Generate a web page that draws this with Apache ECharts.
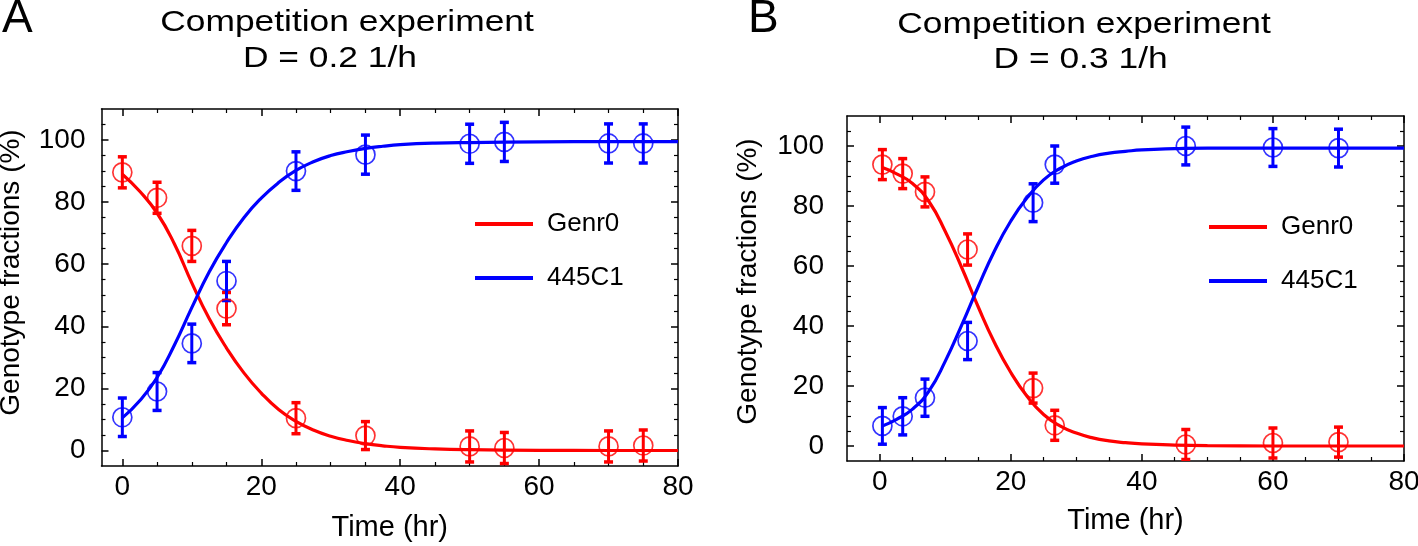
<!DOCTYPE html>
<html><head><meta charset="utf-8">
<script src="https://cdn.jsdelivr.net/npm/echarts@6/dist/echarts.min.js"></script>
<style>html,body{margin:0;padding:0;background:#fff}#c{width:1418px;height:546px}</style>
</head><body><div id="c"></div>
<script>
// ---------- data ----------
const seriesNames = ['Genr0', '445C1'];
const panelLetters = ['A', 'B'];
const titleLine1 = ['Competition experiment', 'Competition experiment'];
const titleLine2 = ['D = 0.2 1/h', 'D = 0.3 1/h'];
const xAxisName = 'Time (hr)';
const yAxisName = 'Genotype fractions (%)';

// Panel A : D = 0.2 1/h
const timeA = [0, 5, 10, 15, 25, 35, 50, 55, 70, 75];
const genr0A = [89.6, 81.4, 65.9, 45.7, 10.4, 4.8, 1.3, 0.8, 1.3, 1.6];
const genr0ErrA = [5, 5, 5, 5.2, 5, 4.5, 5, 5, 5, 5];
const c445A = [10.7, 19, 34.5, 54.6, 90, 95.3, 98.8, 99.4, 98.9, 98.9];
const c445ErrA = [6.2, 6.1, 6.2, 6.3, 6.2, 6.3, 6.3, 6.3, 6.3, 6.3];
const fitTimeA = [0, 2.5, 5, 7.5, 10, 12.5, 15, 17.5, 20, 22.5, 25, 27.5, 30, 32.5, 35, 37.5, 40, 45, 50, 60, 70, 80];
const fitGenr0A = [89, 83.5, 76.5, 66.5, 54, 42.5, 33, 25, 18.5, 13.2, 9.4, 6.6, 4.6, 3.2, 2.2, 1.5, 1.0, 0.5, 0.25, 0.05, 0, 0];
const fitC445A = [10.5, 16, 23.5, 34, 46, 57.5, 67, 75, 81.3, 86.3, 90.2, 93, 95, 96.3, 97.3, 98, 98.5, 99, 99.2, 99.4, 99.5, 99.5];

// Panel B : D = 0.3 1/h
const timeB = [0.4, 3.5, 6.9, 13.4, 23.4, 26.7, 46.7, 60, 70];
const genr0B = [93.8, 90.8, 84.7, 65.5, 19.3, 6.9, 0.5, 1.0, 1.3];
const genr0ErrB = [5, 5, 5, 5.2, 5, 5, 5, 5, 5];
const c445B = [6.7, 9.9, 16.1, 35, 81.1, 93.8, 100, 99.5, 99.3];
const c445ErrB = [6.1, 6.2, 6.2, 6.2, 6.3, 6.2, 6.3, 6.3, 6.3];
const fitTimeB = [0.4, 2.5, 5, 7.5, 10, 12.5, 15, 17.5, 20, 22.5, 25, 27.5, 30, 32.5, 35, 37.5, 40, 45, 50, 60, 70, 80];
const fitGenr0B = [92.8, 90.8, 87.5, 81.5, 71.5, 59.5, 46.5, 34.5, 24.5, 16.5, 10.5, 6.7, 4.3, 2.7, 1.7, 1.1, 0.7, 0.3, 0.1, 0, 0, 0];
const fitC445B = [6.7, 8.8, 12.3, 18.3, 28.3, 40.3, 53, 65, 75, 82.8, 88.7, 92.5, 95, 96.6, 97.6, 98.2, 98.7, 99.1, 99.3, 99.3, 99.3, 99.3];

// axis ticks
const xMajorTicks = [0, 20, 40, 60, 80];
const xMinorTicks = [5, 10, 15, 25, 30, 35, 45, 50, 55, 65, 70, 75];
const yMajorTicks = [0, 20, 40, 60, 80, 100];
const yMinorTicks = [5, 10, 15, 25, 30, 35, 45, 50, 55, 65, 70, 75, 85, 90, 95, 105];

// ---------- styling / layout ----------
const RED = '#ff0000', BLUE = '#0000ff';
const FONT = '"Liberation Sans", Arial, Helvetica, sans-serif';
const NARROW = '"Liberation Sans Narrow", "Liberation Sans", Arial, sans-serif';

const panels = [
  { grid: {left: 101.5, top: 109, width: 576.5, height: 357, outerBoundsMode: 'none', containLabel: false},
    xMin: -3, xMax: 80, yMin: -5, yMax: 110,
    yLabelMargin: 16, yNameGap: 76, yNamePad: 30, xNameGap: 47, legendLeft: 470, legendTop: 206,
    t: timeA, r: genr0A, re: genr0ErrA, b: c445A, be: c445ErrA, ft: fitTimeA, fr: fitGenr0A, fb: fitC445A },
  { grid: {left: 847, top: 116, width: 557, height: 345, outerBoundsMode: 'none', containLabel: false},
    xMin: -5, xMax: 80, yMin: -5, yMax: 110,
    yLabelMargin: 23, yNameGap: 85, yNamePad: 14, xNameGap: 45, legendLeft: 1204, legendTop: 209,
    t: timeB, r: genr0B, re: genr0ErrB, b: c445B, be: c445ErrB, ft: fitTimeB, fr: fitGenr0B, fb: fitC445B }
];

const AXIS_LINE = {show: true, onZero: false, lineStyle: {color: '#000', width: 1.5}};
const NO_LINE = {show: false, onZero: false};

function xAxes(p, g) {
  const base = {type: 'value', gridIndex: g, min: p.xMin, max: p.xMax, splitLine: {show: false}};
  return [
    Object.assign({}, base, {position: 'bottom', axisLine: AXIS_LINE,
      axisTick: {show: true, inside: true, length: 7, customValues: xMajorTicks, lineStyle: {color: '#000', width: 1.5}},
      axisLabel: {show: true, customValues: xMajorTicks, margin: 7, fontSize: 28, fontFamily: FONT, color: '#000'},
      name: xAxisName, nameLocation: 'middle', nameGap: p.xNameGap,
      nameTextStyle: {fontSize: 29, fontFamily: FONT, color: '#000'}}),
    Object.assign({}, base, {position: 'bottom', axisLine: NO_LINE,
      axisTick: {show: true, inside: true, length: 4, customValues: xMinorTicks, lineStyle: {color: '#000', width: 1.2}},
      axisLabel: {show: false}}),
    Object.assign({}, base, {position: 'top', axisLine: AXIS_LINE,
      axisTick: {show: true, inside: true, length: 7, customValues: xMajorTicks, lineStyle: {color: '#000', width: 1.5}},
      axisLabel: {show: false}}),
    Object.assign({}, base, {position: 'top', axisLine: NO_LINE,
      axisTick: {show: true, inside: true, length: 4, customValues: xMinorTicks, lineStyle: {color: '#000', width: 1.2}},
      axisLabel: {show: false}})
  ];
}
function yAxes(p, g) {
  const base = {type: 'value', gridIndex: g, min: p.yMin, max: p.yMax, splitLine: {show: false}};
  return [
    Object.assign({}, base, {position: 'left', axisLine: AXIS_LINE,
      axisTick: {show: true, inside: true, length: 7, customValues: yMajorTicks, lineStyle: {color: '#000', width: 1.5}},
      axisLabel: {show: true, customValues: yMajorTicks, margin: p.yLabelMargin, fontSize: 28, fontFamily: NARROW, color: '#000'},
      name: yAxisName, nameLocation: 'middle', nameGap: p.yNameGap,
      nameTextStyle: {fontSize: 28, fontFamily: FONT, color: '#000', padding: [0, 0, 0, p.yNamePad]}}),
    Object.assign({}, base, {position: 'left', axisLine: NO_LINE,
      axisTick: {show: true, inside: true, length: 4, customValues: yMinorTicks, lineStyle: {color: '#000', width: 1.2}},
      axisLabel: {show: false}}),
    Object.assign({}, base, {position: 'right', axisLine: AXIS_LINE,
      axisTick: {show: true, inside: true, length: 7, customValues: yMajorTicks, lineStyle: {color: '#000', width: 1.5}},
      axisLabel: {show: false}}),
    Object.assign({}, base, {position: 'right', axisLine: NO_LINE,
      axisTick: {show: true, inside: true, length: 4, customValues: yMinorTicks, lineStyle: {color: '#000', width: 1.2}},
      axisLabel: {show: false}})
  ];
}

function errRender(params, api) {
  const x = api.value(0), lo = api.value(1), hi = api.value(2);
  const p1 = api.coord([x, hi]), p2 = api.coord([x, lo]);
  const w = 4.5;
  const style = {stroke: api.visual('color'), lineWidth: 3};
  return {type: 'group', children: [
    {type: 'line', shape: {x1: p1[0], y1: p1[1], x2: p2[0], y2: p2[1]}, style: style},
    {type: 'line', shape: {x1: p1[0] - w, y1: p1[1], x2: p1[0] + w, y2: p1[1]}, style: Object.assign({}, style, {lineWidth: 3.5})},
    {type: 'line', shape: {x1: p2[0] - w, y1: p2[1], x2: p2[0] + w, y2: p2[1]}, style: Object.assign({}, style, {lineWidth: 3.5})}
  ]};
}

const grid = [], xAxis = [], yAxis = [], series = [], legend = [];
panels.forEach((p, g) => {
  grid.push(p.grid);
  xAxis.push(...xAxes(p, g));
  yAxis.push(...yAxes(p, g));
  const xi = 4 * g, yi = 4 * g;
  const sets = [
    {name: seriesNames[0], color: RED, fit: p.fr, v: p.r, e: p.re},
    {name: seriesNames[1], color: BLUE, fit: p.fb, v: p.b, e: p.be}
  ];
  sets.forEach(s => {
    series.push({
      type: 'line', name: s.name, xAxisIndex: xi, yAxisIndex: yi,
      data: p.ft.map((t, i) => [t, s.fit[i]]),
      smooth: 0.5, showSymbol: false, symbol: 'none',
      lineStyle: {color: s.color, width: 3.2}, itemStyle: {color: s.color},
      z: 3, silent: true
    });
  });
  sets.forEach(s => {
    series.push({
      type: 'custom', name: s.name + ' error', xAxisIndex: xi, yAxisIndex: yi,
      renderItem: errRender, encode: {x: 0, y: [1, 2]},
      data: p.t.map((t, i) => [t, s.v[i] - s.e[i], s.v[i] + s.e[i]]),
      itemStyle: {color: s.color}, clip: true, z: 4, silent: true
    });
    series.push({
      type: 'scatter', name: s.name + ' data', xAxisIndex: xi, yAxisIndex: yi,
      data: p.t.map((t, i) => [t, s.v[i]]),
      symbol: 'circle', symbolSize: 19,
      itemStyle: {color: 'rgba(0,0,0,0)', borderColor: s.color, borderWidth: 1.7},
      z: 5, silent: true
    });
  });
  legend.push({
    data: seriesNames, orient: 'vertical', left: p.legendLeft, top: p.legendTop,
    icon: 'rect', itemWidth: 58, itemHeight: 4, itemGap: 28, selectedMode: false,
    textStyle: {fontSize: 26, fontFamily: FONT, color: '#000', padding: [0, 0, 0, 9]}
  });
});

const titleSpecs = [
  {letterX: 2, c1: 347, y1: 23, c2: 330, y2: 59},
  {letterX: 748, c1: 1084, y1: 25, c2: 1080.6, y2: 59.5}
];
const graphic = [];
titleSpecs.forEach((t, i) => {
  graphic.push({type: 'text', x: t.letterX, y: 19,
    style: {text: panelLetters[i], fontSize: 46, fontFamily: FONT, fill: '#000', align: 'left', verticalAlign: 'middle'}});
  graphic.push({type: 'text', x: t.c1, y: t.y1, scaleX: 1.22,
    style: {text: titleLine1[i], fontSize: 29, fontFamily: FONT, fill: '#000', align: 'center', verticalAlign: 'middle'}});
  graphic.push({type: 'text', x: t.c2, y: t.y2, scaleX: 1.22,
    style: {text: titleLine2[i], fontSize: 29, fontFamily: FONT, fill: '#000', align: 'center', verticalAlign: 'middle'}});
});

const chart = echarts.init(document.getElementById('c'), null, {renderer: 'canvas'});
chart.setOption({
  animation: false, backgroundColor: '#fff',
  grid, xAxis, yAxis, series, legend, graphic
});
</script></body></html>
